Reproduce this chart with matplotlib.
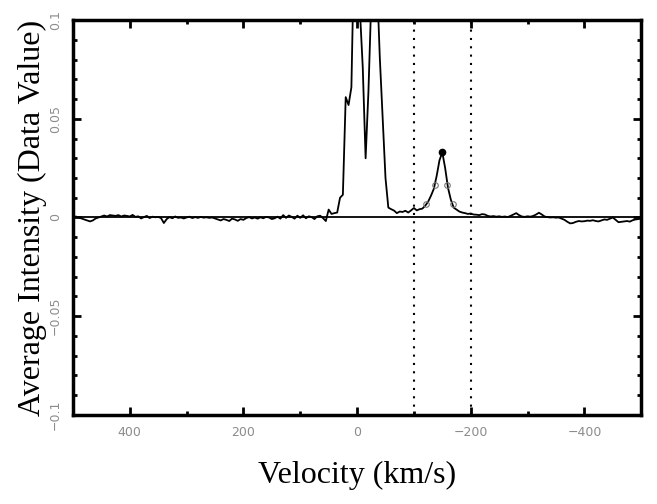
import matplotlib.pyplot as plt
import numpy as np
from matplotlib.ticker import MultipleLocator

# velocity channels, 5 km/s apart, from +500 down to -500
velocity = np.arange(500, -505, -5)

intensity = [
    # 500 .. 455
    0.0000, 0.0005, 0.0000, -0.0005, -0.0010, -0.0015, -0.0020, -0.0015, -0.0005, 0.0000,
    # 450 .. 405
    0.0005, 0.0010, 0.0005, 0.0012, 0.0010, 0.0008, 0.0012, 0.0005, 0.0010, 0.0008,
    # 400 .. 355
    0.0005, 0.0013, 0.0003, 0.0006, -0.0005, 0.0002, 0.0008, -0.0003, 0.0004, 0.0001,
    # 350 .. 305
    0.0003, -0.0003, -0.0028, -0.0008, 0.0002, -0.0004, 0.0005, -0.0002, 0.0000, -0.0005,
    # 300 .. 255
    0.0000, 0.0004, -0.0003, 0.0002, -0.0002, 0.0003, -0.0001, 0.0001, -0.0002, 0.0000,
    # 250 .. 205
    -0.0005, -0.0010, -0.0015, -0.0008, -0.0012, -0.0018, -0.0006, -0.0010, -0.0017, -0.0008,
    # 200 .. 155
    -0.0012, -0.0003, 0.0002, -0.0005, 0.0000, -0.0006, 0.0001, -0.0004, 0.0003, 0.0000,
    # 150 .. 105
    -0.0008, -0.0004, 0.0004, -0.0006, 0.0012, -0.0002, 0.0010, 0.0003, -0.0006, 0.0009,
    # 100 .. 55
    -0.0002, 0.0011, -0.0004, 0.0006, 0.0002, -0.0008, 0.0006, 0.0009, -0.0003, -0.0018,
    # 50 .. 5
    0.0040, 0.0018, 0.0022, 0.0025, 0.0100, 0.0115, 0.0610, 0.0570, 0.0660, 0.1400,
    # 0 .. -45
    0.2000, 0.1050, 0.0760, 0.0300, 0.0640, 0.1100, 0.2000, 0.1200, 0.0810, 0.0500,
    # -50 .. -95
    0.0200, 0.0050, 0.0042, 0.0035, 0.0022, 0.0030, 0.0028, 0.0034, 0.0025, 0.0036,
    # -100 .. -145
    0.0048, 0.0036, 0.0042, 0.0045, 0.0060, 0.0080, 0.0110, 0.0145, 0.0210, 0.0290,
    # -150 .. -195
    0.0330, 0.0250, 0.0150, 0.0090, 0.0050, 0.0040, 0.0030, 0.0025, 0.0022, 0.0018,
    # -200 .. -245
    0.0020, 0.0015, 0.0014, 0.0012, 0.0017, 0.0015, 0.0008, 0.0005, 0.0007, 0.0004,
    # -250 .. -295
    0.0006, 0.0003, 0.0005, 0.0002, 0.0008, 0.0015, 0.0022, 0.0012, 0.0005, 0.0003,
    # -300 .. -345
    0.0006, 0.0004, 0.0008, 0.0015, 0.0024, 0.0015, 0.0005, 0.0002, 0.0000, 0.0001,
    # -350 .. -395
    -0.0001, 0.0000, -0.0006, -0.0012, -0.0022, -0.0030, -0.0028, -0.0022, -0.0018, -0.0020,
    # -400 .. -445
    -0.0019, -0.0016, -0.0017, -0.0014, -0.0018, -0.0020, -0.0015, -0.0010, -0.0012, -0.0006,
    # -450 .. -500
    0.0000, -0.0012, -0.0024, -0.0022, -0.0020, -0.0018, -0.0021, -0.0014, -0.0010, -0.0008, -0.0006,
]

# fitted peak and its 50% / 20% points
peak_vel = [-150]
peak_val = [0.033]
level_vel = [-121, -137, -159, -168]
level_val = [0.0066, 0.0165, 0.0165, 0.0066]

# velocity window
window = [-100, -200]

fig = plt.figure(figsize=(6.57, 5.04), dpi=100)
ax = fig.add_axes([0.111, 0.177, 0.865, 0.783])

ax.plot(velocity, intensity, color='black', lw=1.3)
ax.axhline(0, color='black', lw=1.3)
for v in window:
    ax.axvline(v, color='black', lw=1.5, ls=(0, (1, 3)))
ax.plot(level_vel, level_val, 'o', ms=4, mfc='none', mec='#777777', mew=0.8)
ax.plot(peak_vel, peak_val, 'o', ms=4.5, color='black')

ax.set_xlim(500, -500)
ax.set_ylim(-0.1, 0.1)

ax.xaxis.set_major_locator(MultipleLocator(200))
ax.xaxis.set_minor_locator(MultipleLocator(100))
ax.yaxis.set_major_locator(MultipleLocator(0.05))
ax.yaxis.set_minor_locator(MultipleLocator(0.01))
ax.tick_params(which='both', direction='in', top=True, right=True, width=2,
               colors='black', labelcolor='#8c8c8c', labelsize=9)
ax.tick_params(which='major', length=6, pad=8)
ax.tick_params(which='minor', length=3)
ax.set_xticks([400, 200, 0, -200, -400])
ax.set_xticklabels(['400', '200', '0', '\u2212200', '\u2212400'])
ax.set_yticks([-0.1, -0.05, 0, 0.05, 0.1])
ax.set_yticklabels(['\u22120.1', '\u22120.05', '0', '0.05', '0.1'],
                   rotation=90, va='center')
for s in ax.spines.values():
    s.set_linewidth(2.5)

ax.set_xlabel('Velocity (km/s)', family='Liberation Serif', fontsize=23, labelpad=16)
ax.set_ylabel('Average Intensity (Data Value)', family='Liberation Serif',
              fontsize=23, labelpad=1)

fig.savefig('out.png', dpi=100)
